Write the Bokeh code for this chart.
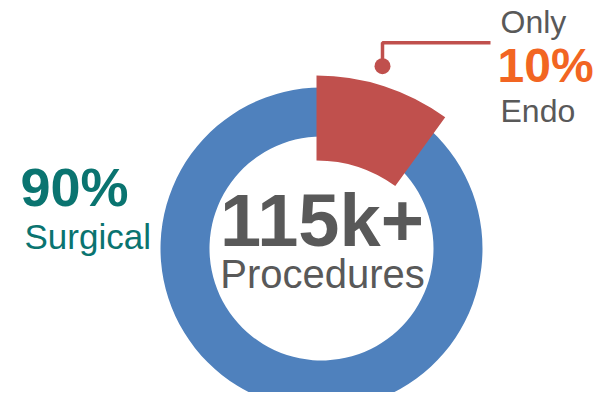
import math
from bokeh.plotting import figure
from bokeh.models import Range1d, Label
from bokeh.embed import file_html
from bokeh.resources import INLINE

# ---- data ----
categories = ["Surgical", "Endo"]
shares = [90, 10]
total_label = "115k+"
total_caption = "Procedures"
colors = ["#4F81BD", "#C0504D"]

FONT = "Liberation Sans"
GRAY = "#595959"
TEAL = "#0A7470"
ORANGE = "#F26522"

W, H = 597, 392
p = figure(width=W, height=H, output_backend="svg", toolbar_location=None,
           x_range=Range1d(0, W), y_range=Range1d(408 - H, 408),
           min_border=0, outline_line_color=None)
p.axis.visible = False
p.grid.visible = False
p.background_fill_color = "white"
p.border_fill_color = "white"

def Y(sy):
    return 408 - sy

# wedge angles from shares (start at 12 o'clock, Endo goes clockwise)
tot = sum(shares)
endo_span = 2 * math.pi * shares[1] / tot
top = math.pi / 2
# Surgical ring
cx, cy = 321, Y(248)
p.annular_wedge(x=[cx], y=[cy], inner_radius=112, outer_radius=161,
                start_angle=[top], end_angle=[top - endo_span + 2 * math.pi],
                direction="anticlock", color=colors[0], line_color=None)
# Endo (highlighted) wedge
ex, ey = 316, Y(294)
p.annular_wedge(x=[ex], y=[ey], inner_radius=134, outer_radius=219,
                start_angle=[top - endo_span], end_angle=[top],
                direction="anticlock", color=colors[1], line_color=None)

# leader line and dot
p.line(x=[382, 382, 490], y=[Y(66), Y(42.3), Y(42.3)], line_width=3.5,
       line_color=colors[1])
p.scatter(x=[382], y=[Y(65.7)], size=16, color=colors[1], line_color=None)

def lab(x, sy, text, size, color, bold=False, align="left"):
    sy = sy - 0.37 * size
    p.add_layout(Label(x=x, y=Y(sy), text=text, text_font=FONT,
                       text_font_size=f"{size}px", text_color=color,
                       text_font_style="bold" if bold else "normal",
                       text_align=align, text_baseline="alphabetic"))

lab(20, 206, f"{shares[0]}%", 54, TEAL, bold=True)
lab(24, 249, categories[0], 35, TEAL)
lab(321.5, 247.5, total_label, 74, GRAY, bold=True, align="center")
lab(322, 288.5, total_caption, 40, GRAY, align="center")
lab(500, 33, "Only", 32, GRAY)
lab(497, 83, f"{shares[1]}%", 48, ORANGE, bold=True)
lab(500, 122, categories[1], 32, GRAY)

open("out.html", "w").write(file_html(p, INLINE))
